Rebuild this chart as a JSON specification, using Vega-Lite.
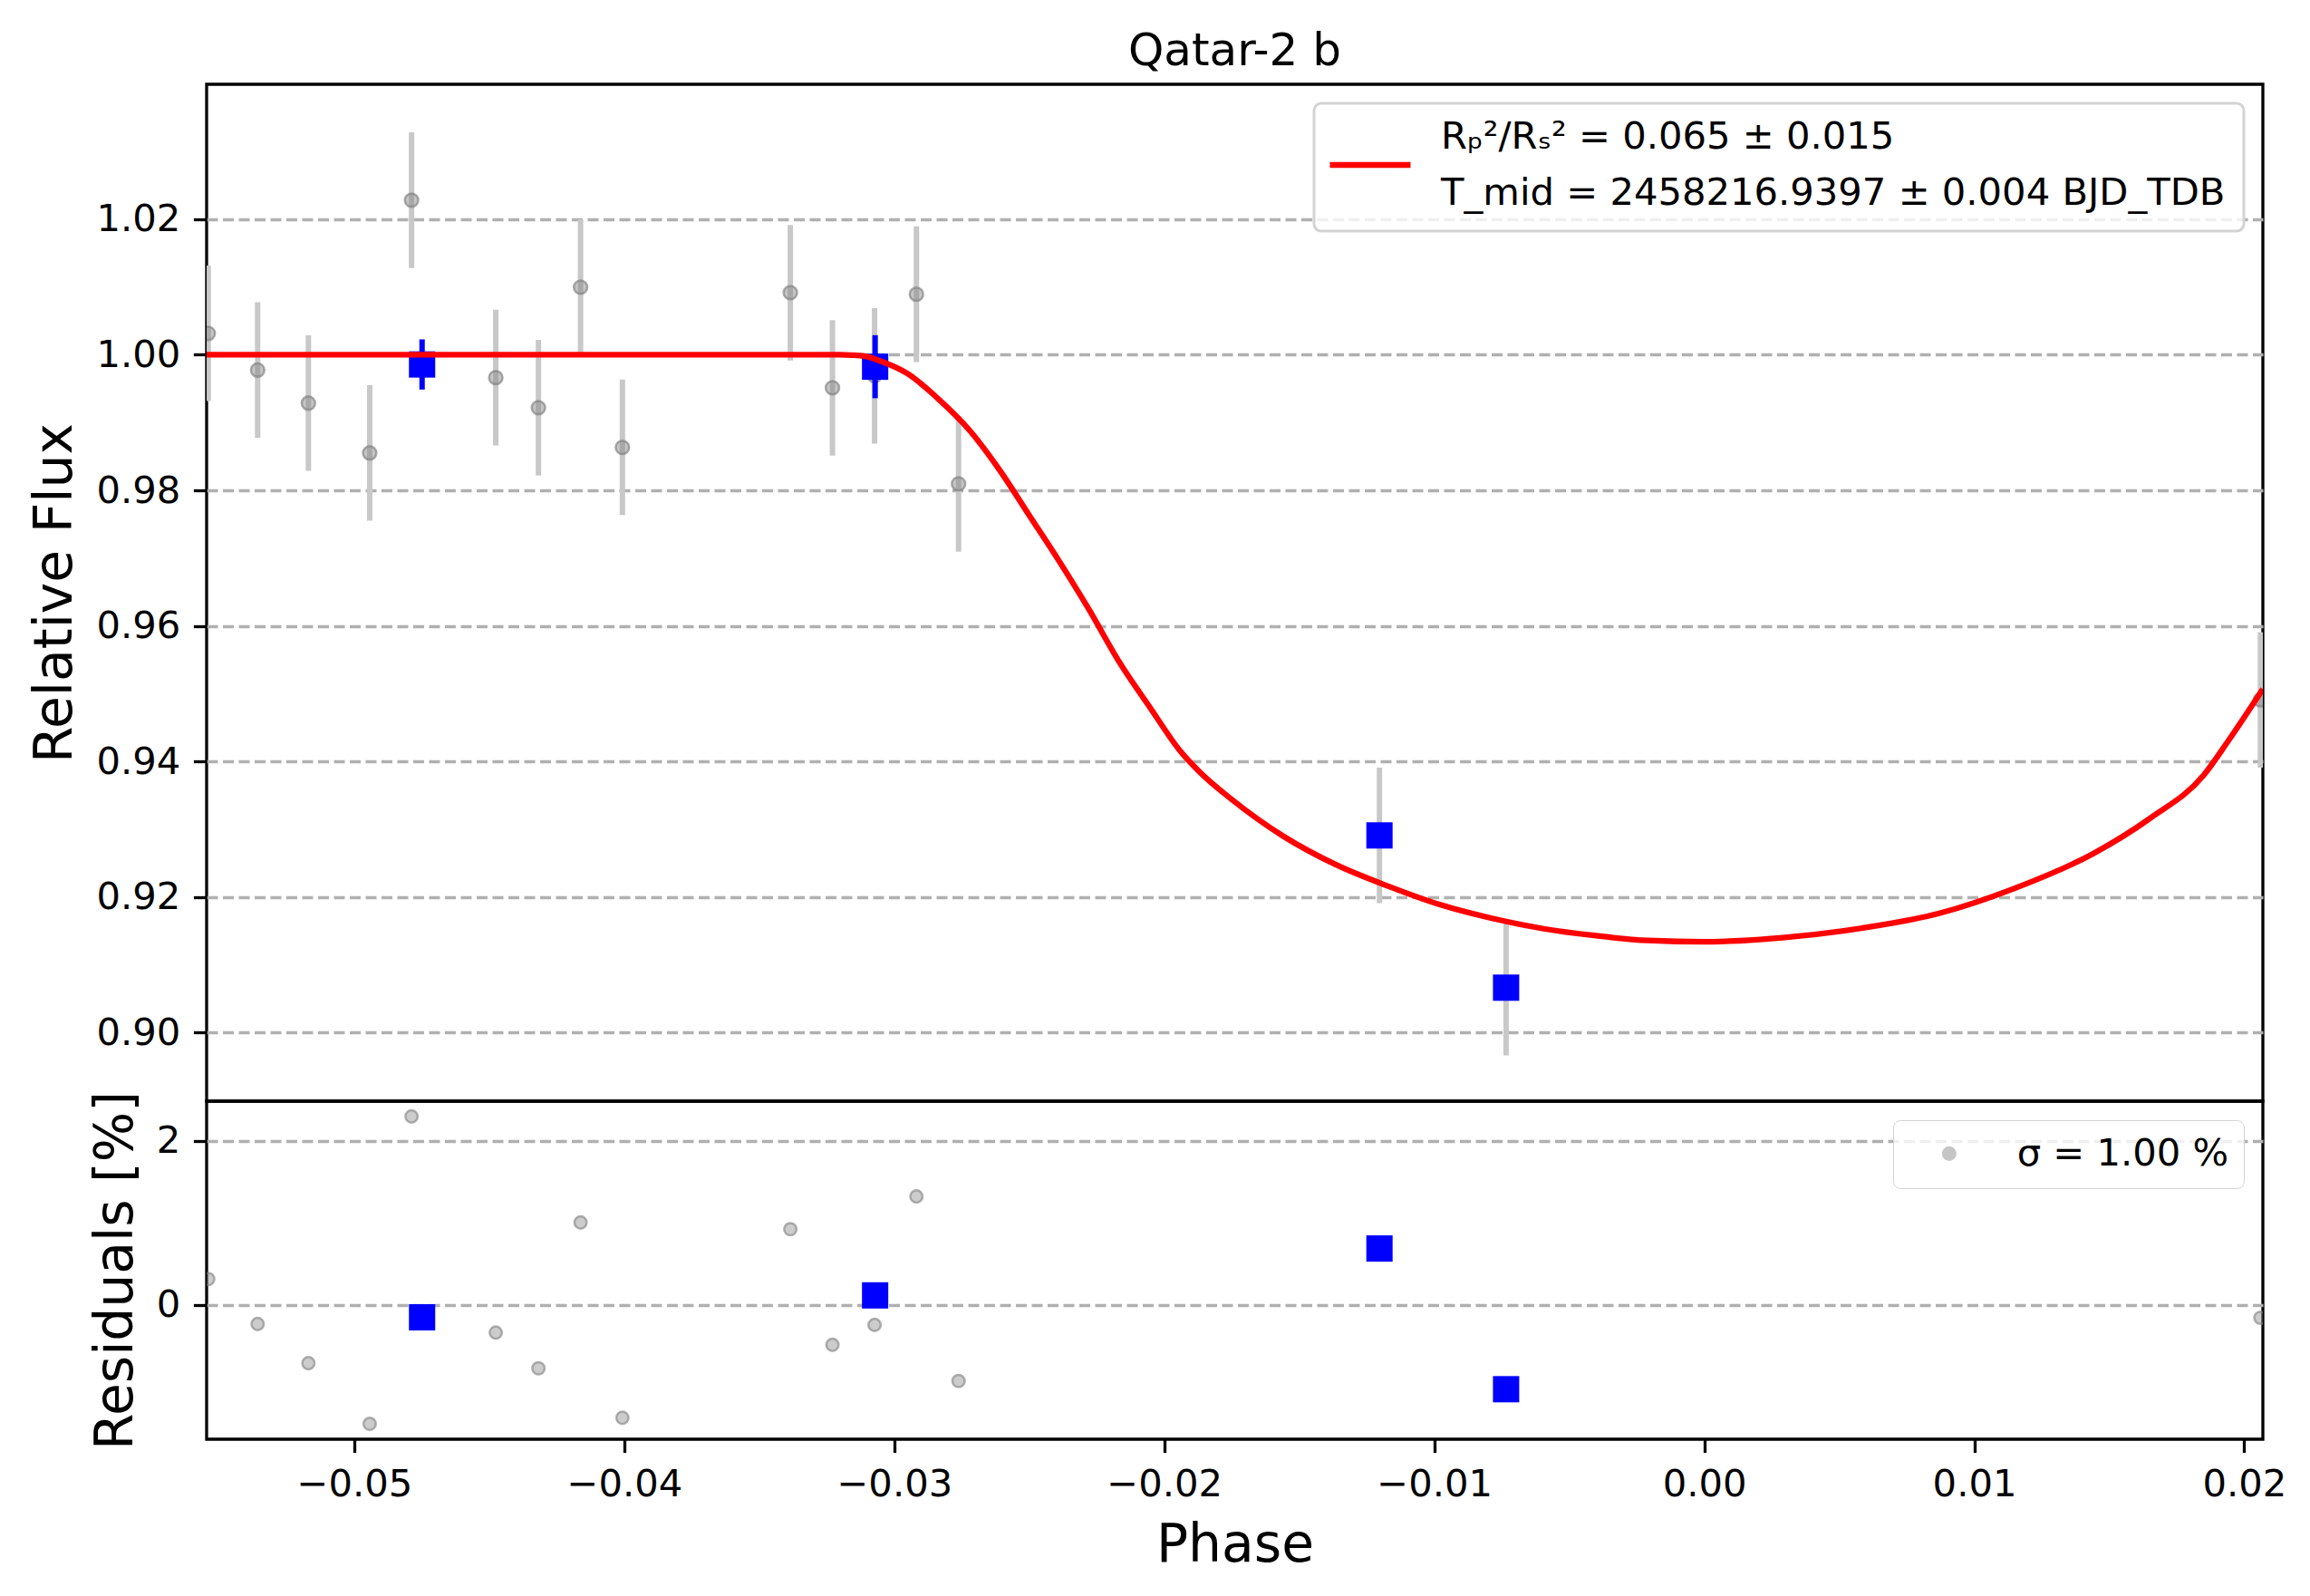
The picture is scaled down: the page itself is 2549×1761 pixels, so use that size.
{
  "$schema": "https://vega.github.io/schema/vega-lite/v6.json",
  "background": "white",
  "padding": {"left": 30, "top": 30, "right": 28, "bottom": 27},
  "spacing": 0,
  "bounds": "flush",
  "config": {
    "font": "DejaVu Sans",
    "view": {"stroke": "black", "strokeWidth": 3.3},
    "axis": {
      "domain": false,
      "tickSize": 14.6,
      "tickWidth": 3.3,
      "tickColor": "black",
      "labelFont": "DejaVu Sans",
      "labelFontSize": 41.7,
      "labelPadding": 14.6,
      "labelColor": "black",
      "labelFlush": false,
      "labelOverlap": false,
      "titleFont": "DejaVu Sans",
      "titleFontSize": 58.3,
      "titleFontWeight": "normal",
      "titleColor": "black",
      "gridColor": "#b0b0b0",
      "gridDash": [12, 5.5],
      "gridWidth": 3.3
    },
    "legend": {
      "labelFont": "DejaVu Sans",
      "labelFontSize": 41.7,
      "labelColor": "black",
      "labelLimit": 3000,
      "fillColor": "rgba(255,255,255,0.8)",
      "strokeColor": "#d3d3d3",
      "cornerRadius": 8
    }
  },
  "datasets": {
    "obs": [
      {"phase": -0.05541, "flux": 1.00316, "err": 0.01, "res": 0.317},
      {"phase": -0.05358, "flux": 0.99775, "err": 0.01, "res": -0.230},
      {"phase": -0.05170, "flux": 0.99287, "err": 0.01, "res": -0.708},
      {"phase": -0.04943, "flux": 0.98552, "err": 0.01, "res": -1.447},
      {"phase": -0.04788, "flux": 1.02281, "err": 0.01, "res": 2.298},
      {"phase": -0.04476, "flux": 0.99663, "err": 0.01, "res": -0.335},
      {"phase": -0.04318, "flux": 0.99219, "err": 0.01, "res": -0.770},
      {"phase": -0.04162, "flux": 1.00997, "err": 0.01, "res": 1.006},
      {"phase": -0.04007, "flux": 0.98635, "err": 0.01, "res": -1.373},
      {"phase": -0.03385, "flux": 1.00916, "err": 0.01, "res": 0.925},
      {"phase": -0.03229, "flux": 0.99512, "err": 0.01, "res": -0.484},
      {"phase": -0.03073, "flux": 0.99689, "err": 0.01, "res": -0.242},
      {"phase": -0.02918, "flux": 1.00893, "err": 0.01, "res": 1.323},
      {"phase": -0.02762, "flux": 0.98095, "err": 0.01, "res": -0.925},
      {"phase": -0.01203, "flux": 0.92910, "err": 0.01, "res": 0.689},
      {"phase": -0.00734, "flux": 0.90664, "err": 0.01, "res": -1.025},
      {"phase": 0.02060, "flux": 0.94910, "err": 0.01, "res": -0.155}
    ],
    "binned": [
      {"phase": -0.04749, "flux": 0.99857, "err": 0.0037, "res": -0.149},
      {"phase": -0.03071, "flux": 0.99824, "err": 0.00465, "res": 0.118},
      {"phase": -0.01203, "flux": 0.92910, "err": 0.0, "res": 0.689},
      {"phase": -0.00734, "flux": 0.90664, "err": 0.0, "res": -1.025}
    ],
    "model": [
      {"phase": -0.0560, "flux": 1.0},
      {"phase": -0.0320, "flux": 1.0},
      {"phase": -0.0316, "flux": 0.99995},
      {"phase": -0.0311, "flux": 0.9998},
      {"phase": -0.0306, "flux": 0.9992},
      {"phase": -0.0295, "flux": 0.9972},
      {"phase": -0.0284, "flux": 0.9936},
      {"phase": -0.0272, "flux": 0.9888},
      {"phase": -0.0261, "flux": 0.9830},
      {"phase": -0.0250, "flux": 0.9763},
      {"phase": -0.0239, "flux": 0.9696},
      {"phase": -0.0228, "flux": 0.9625},
      {"phase": -0.0217, "flux": 0.9549},
      {"phase": -0.0205, "flux": 0.9478},
      {"phase": -0.0194, "flux": 0.9415},
      {"phase": -0.0187, "flux": 0.9385},
      {"phase": -0.0175, "flux": 0.9344},
      {"phase": -0.0156, "flux": 0.9290},
      {"phase": -0.0136, "flux": 0.9247},
      {"phase": -0.0117, "flux": 0.9216},
      {"phase": -0.0098, "flux": 0.9189},
      {"phase": -0.0079, "flux": 0.9169},
      {"phase": -0.0059, "flux": 0.9153},
      {"phase": -0.0040, "flux": 0.9143},
      {"phase": -0.0021, "flux": 0.9136},
      {"phase": 0.0, "flux": 0.9134},
      {"phase": 0.0029, "flux": 0.9140},
      {"phase": 0.0058, "flux": 0.9154},
      {"phase": 0.0087, "flux": 0.9176},
      {"phase": 0.0115, "flux": 0.9213},
      {"phase": 0.0144, "flux": 0.9264},
      {"phase": 0.0165, "flux": 0.9316},
      {"phase": 0.0185, "flux": 0.9380},
      {"phase": 0.0194, "flux": 0.9430},
      {"phase": 0.02069, "flux": 0.9507}
    ]
  },
  "resolve": {
    "scale": {"x": "shared", "y": "independent", "color": "independent"},
    "legend": {"color": "independent"}
  },
  "vconcat": [
    {
      "width": 2269,
      "height": 1122,
      "title": {
        "text": "Qatar-2 b",
        "fontSize": 50,
        "fontWeight": "normal",
        "font": "DejaVu Sans",
        "color": "black",
        "anchor": "middle",
        "frame": "group",
        "baseline": "alphabetic",
        "offset": -29
      },
      "encoding": {
        "x": {
          "field": "phase",
          "type": "quantitative",
          "scale": {"domain": [-0.05547, 0.02069], "nice": false, "zero": false},
          "axis": null
        },
        "y": {
          "field": "flux",
          "type": "quantitative",
          "title": "Relative Flux",
          "scale": {"domain": [0.8899, 1.0399], "nice": false, "zero": false},
          "axis": {
            "values": [0.90, 0.92, 0.94, 0.96, 0.98, 1.00, 1.02],
            "format": ".2f",
            "grid": true,
            "titlePadding": 15
          }
        }
      },
      "layer": [
        {
          "data": {"name": "obs"},
          "mark": {"type": "errorbar", "color": "#c8c8c8", "thickness": 6, "clip": true},
          "encoding": {"yError": {"field": "err"}}
        },
        {
          "data": {"name": "obs"},
          "mark": {
            "type": "circle",
            "size": 220,
            "fill": "#808080",
            "fillOpacity": 0.45,
            "stroke": "#808080",
            "strokeOpacity": 0.65,
            "strokeWidth": 2.5,
            "clip": true
          }
        },
        {
          "data": {"name": "binned"},
          "mark": {"type": "errorbar", "color": "#0000ff", "thickness": 6, "clip": true},
          "encoding": {"yError": {"field": "err"}}
        },
        {
          "data": {"name": "binned"},
          "mark": {"type": "square", "size": 841, "color": "#0000ff", "opacity": 1, "clip": true}
        },
        {
          "data": {"name": "model"},
          "mark": {"type": "line", "strokeWidth": 6.3, "interpolate": "monotone", "clip": true},
          "encoding": {
            "color": {
              "datum": "fit",
              "type": "nominal",
              "scale": {"domain": ["fit"], "range": ["#ff0000"]},
              "legend": {
                "title": null,
                "orient": "top-right",
                "offset": 21,
                "padding": 20,
                "symbolType": "stroke",
                "symbolSize": 7921,
                "symbolStrokeWidth": 6.3,
                "symbolOffset": -6,
                "labelOffset": 30,
                "labelExpr": "['Rₚ²/Rₛ² = 0.065 ± 0.015', 'T_mid = 2458216.9397 ± 0.004 BJD_TDB']",
                "encode": {
                  "labels": {"update": {"lineHeight": {"value": 62}, "dy": {"value": -31}}},
                  "legend": {"update": {"strokeWidth": {"value": 3}}}
                }
              }
            }
          }
        }
      ]
    },
    {
      "width": 2269,
      "height": 373,
      "encoding": {
        "x": {
          "field": "phase",
          "type": "quantitative",
          "title": "Phase",
          "scale": {"domain": [-0.05547, 0.02069], "nice": false, "zero": false},
          "axis": {
            "values": [-0.05, -0.04, -0.03, -0.02, -0.01, 0.0, 0.01, 0.02],
            "format": ".2f",
            "grid": false,
            "titlePadding": 18
          }
        },
        "y": {
          "field": "res",
          "type": "quantitative",
          "title": "Residuals [%]",
          "scale": {"domain": [-1.634, 2.484], "nice": false, "zero": false},
          "axis": {
            "values": [0, 2],
            "format": ".0f",
            "grid": true,
            "titlePadding": 15
          }
        }
      },
      "layer": [
        {
          "data": {"name": "obs"},
          "mark": {
            "type": "circle",
            "size": 185,
            "fillOpacity": 0.4,
            "strokeOpacity": 0.6,
            "strokeWidth": 2.5,
            "clip": true
          },
          "encoding": {
            "color": {
              "datum": "σ = 1.00 %",
              "type": "nominal",
              "scale": {"domain": ["σ = 1.00 %"], "range": ["#808080"]},
              "legend": {
                "title": null,
                "orient": "top-right",
                "offset": 21,
                "padding": 16,
                "symbolType": "circle",
                "symbolSize": 185,
                "symbolOpacity": 0.45,
                "symbolStrokeWidth": 2.5,
                "symbolOffset": 25,
                "labelOffset": 54,
                "encode": {"legend": {"update": {"strokeWidth": {"value": 3}}}}
              }
            },
            "stroke": {"value": "#808080"}
          }
        },
        {
          "data": {"name": "binned"},
          "mark": {"type": "square", "size": 841, "color": "#0000ff", "opacity": 1, "clip": true}
        }
      ]
    }
  ]
}
